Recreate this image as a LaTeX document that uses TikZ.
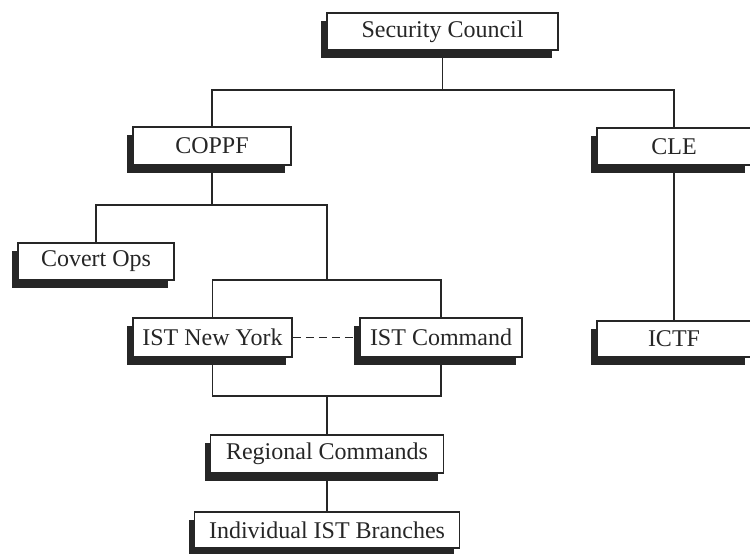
\documentclass[tikz,border=0pt]{standalone}
\usepackage{fontspec}
\setmainfont{Liberation Serif}
\usetikzlibrary{shadows,calc}
\begin{document}
\begin{tikzpicture}[x=1pt,y=-1pt,
  orgbox/.style={draw=black!85, line width=1.5pt, fill=white, text=black!85,
    font=\fontsize{24}{26}\selectfont, inner sep=0pt, minimum height=37pt,
    drop shadow={shadow xshift=-6pt, shadow yshift=-8pt, fill=black!85, opacity=1}},
  conn/.style={draw=black!85, line width=1.5pt},
  dashconn/.style={conn, dash pattern=on 8pt off 5pt}]
\useasboundingbox (0,0) rectangle (750,554);
\node[orgbox, minimum width=231pt] (sc) at (442.5,31.5) {Security Council};
\node[orgbox, minimum width=158pt, minimum height=38pt] (coppf) at (212,146) {COPPF};
\node[orgbox, minimum width=154pt] (cle) at (674,146.5) {CLE};
\node[orgbox, minimum width=156pt] (covert) at (96,261.5) {Covert Ops};
\node[orgbox, minimum width=159pt, minimum height=39pt] (istny) at (212.5,337.5) {IST New York};
\node[orgbox, minimum width=162pt, minimum height=39pt] (istcmd) at (441,337.5) {IST Command};
\node[orgbox, minimum width=154pt, minimum height=36pt] (ictf) at (674,339) {ICTF};
\node[orgbox, minimum width=233pt, minimum height=38pt] (regional) at (327,454) {Regional Commands};
\node[orgbox, minimum width=265pt, minimum height=36pt] (indiv) at (327,530) {Individual IST Branches};
\coordinate (b1) at (0,90);
\coordinate (b2) at (0,205);
\coordinate (b3) at (0,280);
\coordinate (b4) at (0,396);
\draw[conn] (sc.south) -- (sc.south |- b1);
\draw[conn] (coppf.north) -- (coppf.north |- b1) -- (cle.north |- b1) -- (cle.north);
\draw[conn] (coppf.south) -- (coppf.south |- b2);
\draw[conn] (covert.north) -- (covert.north |- b2) -- (regional.north |- b2) -- (regional.north |- b3);
\draw[conn] (istny.north) -- (istny.north |- b3) -- (istcmd.north |- b3) -- (istcmd.north);
\draw[conn] (istny.south) -- (istny.south |- b4) -- (istcmd.south |- b4) -- (istcmd.south);
\draw[conn] (regional.north |- b4) -- (regional.north);
\draw[conn] (regional.south) -- (indiv.north);
\draw[conn] (cle.south) -- (ictf.north);
\draw[dashconn] (istny.east) -- (istcmd.west);
\end{tikzpicture}
\end{document}
